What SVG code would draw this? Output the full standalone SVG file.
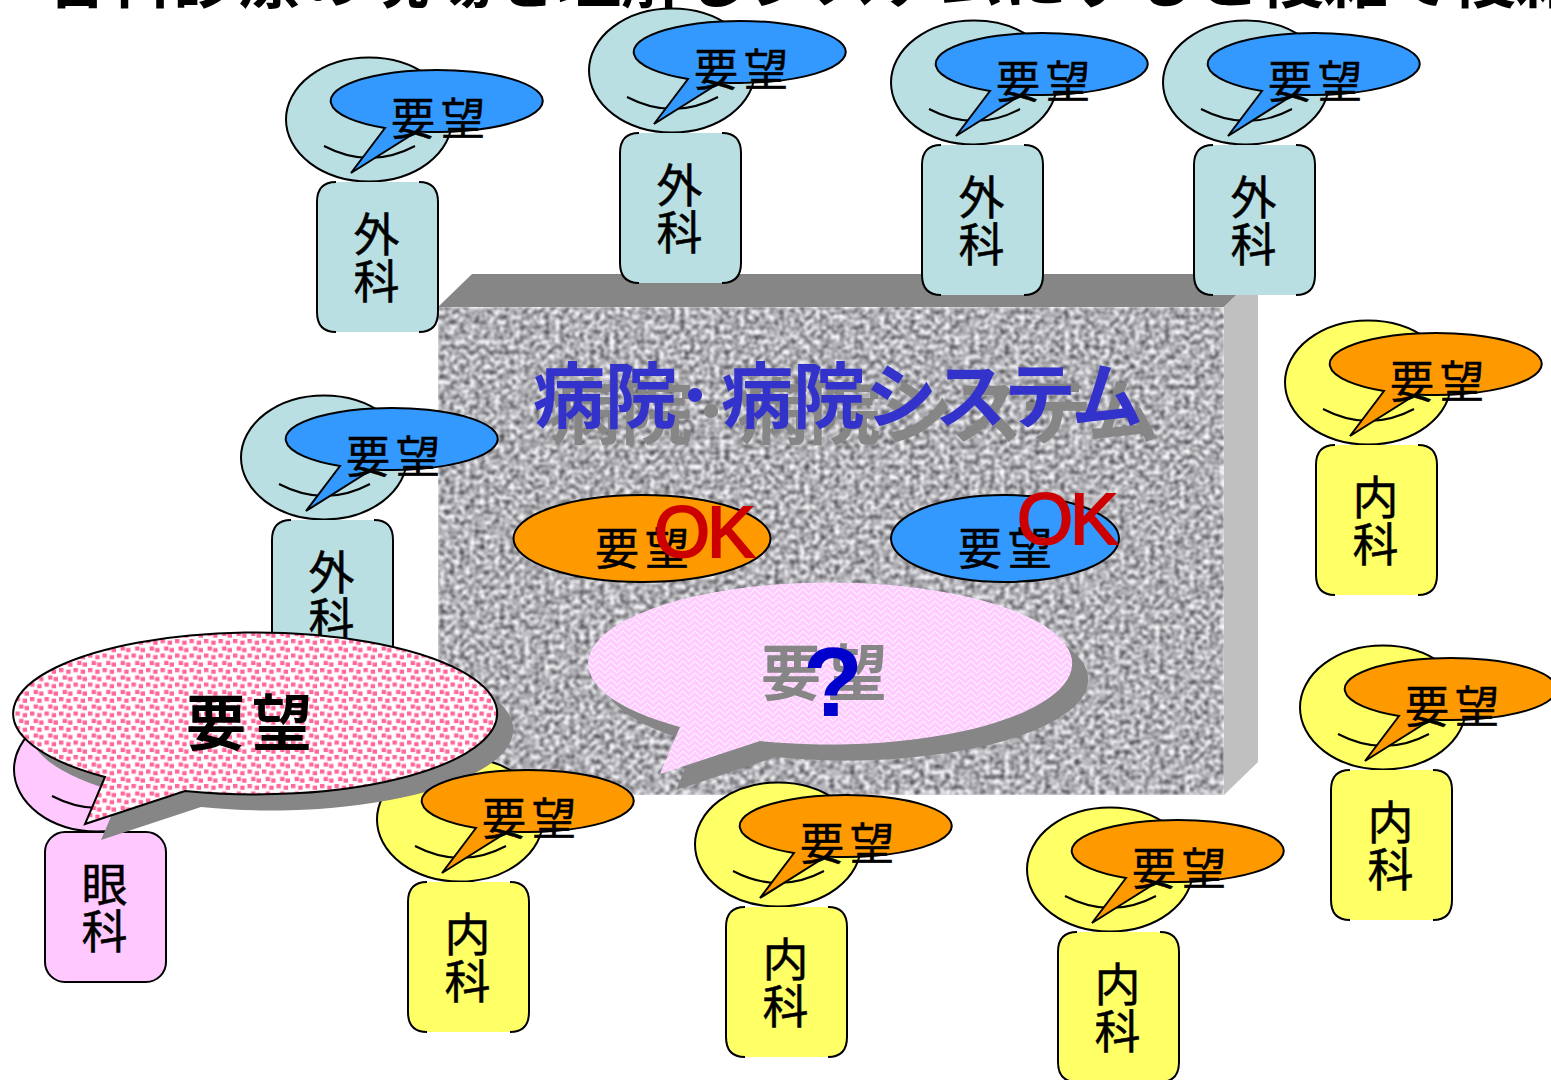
<svg xmlns="http://www.w3.org/2000/svg" width="1551" height="1080" viewBox="0 0 1551 1080">
<style>
text{font-family:"Noto Sans CJK JP","Liberation Sans",sans-serif;fill:#000}
.s{stroke:#000;stroke-width:2}
.teal{fill:#b9dfe3}.yel{fill:#ffff66}.pnk{fill:#ffc9ff}.blue{fill:#3399ff}.org{fill:#ff9900}
.lbl{font-size:44px;letter-spacing:6px;stroke:#000;stroke-width:.5}
.dep{font-size:46px;text-anchor:middle;stroke:#000;stroke-width:.5}
.ok{font-family:"Liberation Sans",sans-serif;font-size:72px;letter-spacing:-3px;fill:#cc0000;stroke:#cc0000;stroke-width:2}
.big{font-size:60px;font-weight:700;letter-spacing:6px}
.sys{font-size:72px;font-weight:700}
</style>
<defs>
<filter id="granite" x="0" y="0" width="100%" height="100%" color-interpolation-filters="sRGB">
<feTurbulence type="fractalNoise" baseFrequency="0.2" numOctaves="2" seed="11"/>
<feColorMatrix type="matrix" values="1.3 0 0 0 0.04  1.3 0 0 0 0.04  1.3 0 0 0 0.06  0 0 0 0 1"/>
<feGaussianBlur stdDeviation="0.8"/>
</filter>
<pattern id="dots" width="14.5" height="14.5" patternUnits="userSpaceOnUse">
<rect width="14.5" height="14.5" fill="#fff"/>
<g fill="#ff6699"><rect x="1" y="1" width="4.4" height="4.2"/><rect x="8.2" y="2.6" width="4.4" height="4.2"/><rect x="4.6" y="8.4" width="4.4" height="4.2"/><rect x="10.1" y="10" width="4.4" height="4.2"/></g>
</pattern>
<pattern id="weave" width="12" height="12" patternUnits="userSpaceOnUse">
<rect width="12" height="12" fill="#ffccff"/>
<path d="M0,3 L6,9 L12,3 M0,9 L3,12 M9,12 L12,9 M3,0 L6,3 L9,0" fill="none" stroke="#fff" stroke-width="1.1" opacity=".7"/>
</pattern>
<g id="head"><ellipse cx="369" cy="119.5" rx="83" ry="62" class="s"/><path d="M324,146 Q370,170 415,146" fill="none" class="s"/></g>
<path id="call" class="s" d="M385,128 L351,173 L417,131.4 A106,31 0 1 0 385,128 Z"/>
<g id="body"><rect x="317" y="182" width="121" height="150" rx="20" stroke="none"/><path d="M336,182 Q317,182 317,202 V312 Q317,332 336,332 M419,182 Q438,182 438,202 V312 Q438,332 419,332" fill="none" class="s"/></g>
<path id="spk" d="M105,777 L85,824 L185,791 A242,81 0 1 0 105,777 Z"/>
</defs>

<text id="title" y="2" style="font-size:64px;font-weight:700"><tspan x="15" y="12" style="font-family:'Liberation Sans',sans-serif">•</tspan><tspan x="45" y="2">各科診療の現場を理解しシステムにすると複雑で複雑</tspan></text>

<g id="system">
<polygon points="438,307 472,274 1258,274 1224,307" fill="#868686"/>
<polygon points="1224,307 1258,274 1258,762 1224,795" fill="#c0c0c0"/>
<rect x="438" y="307" width="786" height="488" filter="url(#granite)"/>
<text class="sys" x="549" y="438" style="fill:#868686">病院･<tspan dx="8">病院</tspan><tspan letter-spacing="-2.5">システム</tspan></text>
<text class="sys" x="533" y="422" style="fill:#3333cc">病院･<tspan dx="8">病院</tspan><tspan letter-spacing="-2.5">システム</tspan></text>
</g>

<g id="connectors"></g>

<g id="req-org"><ellipse cx="642" cy="538.5" rx="128.5" ry="43.5" class="org s"/><text class="lbl" x="595" y="565">要望</text><text class="ok" x="654" y="557">OK</text></g>
<g id="req-blue"><ellipse cx="1005" cy="538.5" rx="114" ry="43.5" class="blue s"/><text class="lbl" x="958" y="565">要望</text><text class="ok" x="1017" y="544">OK</text></g>

<g id="speech-center">
<use href="#spk" x="591" y="-34" fill="#868686"/>
<use href="#spk" x="575" y="-50" fill="url(#weave)"/>
<text class="big" x="761" y="695" style="fill:#868686">要望</text>
<text x="833" y="716" text-anchor="middle" style="font-family:'Liberation Sans',sans-serif;font-size:98px;font-weight:700;fill:#0000cc">?</text>
</g>

<g id="n-surg1"><use href="#head" class="teal"/><use href="#call" class="blue"/><use href="#body" class="teal"/><text class="lbl" x="391" y="135">要望</text><text class="dep" x="376.5" y="251">外</text><text class="dep" x="376.5" y="298">科</text></g>
<g id="n-surg2" transform="translate(303,-49)"><use href="#head" class="teal"/><use href="#call" class="blue"/><use href="#body" class="teal"/><text class="lbl" x="391" y="135">要望</text><text class="dep" x="376.5" y="251">外</text><text class="dep" x="376.5" y="298">科</text></g>
<g id="n-surg3" transform="translate(605,-37)"><use href="#head" class="teal"/><use href="#call" class="blue"/><use href="#body" class="teal"/><text class="lbl" x="391" y="135">要望</text><text class="dep" x="376.5" y="251">外</text><text class="dep" x="376.5" y="298">科</text></g>
<g id="n-surg4" transform="translate(877,-37)"><use href="#head" class="teal"/><use href="#call" class="blue"/><use href="#body" class="teal"/><text class="lbl" x="391" y="135">要望</text><text class="dep" x="376.5" y="251">外</text><text class="dep" x="376.5" y="298">科</text></g>
<g id="n-surg5" transform="translate(-45,338)"><use href="#head" class="teal"/><use href="#call" class="blue"/><use href="#body" class="teal"/><text class="lbl" x="391" y="135">要望</text><text class="dep" x="376.5" y="251">外</text><text class="dep" x="376.5" y="298">科</text></g>
<g id="n-eye" transform="translate(-272,650)"><use href="#head" class="pnk"/><rect x="317" y="182" width="121" height="150" rx="20" class="pnk s"/><text class="dep" x="376.5" y="251">眼</text><text class="dep" x="376.5" y="298">科</text></g>
<g id="n-int-a-head" transform="translate(91,700)"><use href="#head" class="yel"/></g>

<g id="speech-left">
<use href="#spk" x="16" y="16" fill="#868686"/>
<use href="#spk" fill="url(#dots)" class="s"/>
<text class="big" x="186" y="745">要望</text>
</g>

<g id="n-int-a" transform="translate(91,700)"><use href="#call" class="org"/><use href="#body" class="yel"/><text class="lbl" x="391" y="135">要望</text><text class="dep" x="376.5" y="251">内</text><text class="dep" x="376.5" y="298">科</text></g>
<g id="n-int-b" transform="translate(409,725)"><use href="#head" class="yel"/><use href="#call" class="org"/><use href="#body" class="yel"/><text class="lbl" x="391" y="135">要望</text><text class="dep" x="376.5" y="251">内</text><text class="dep" x="376.5" y="298">科</text></g>
<g id="n-int-c" transform="translate(741,750)"><use href="#head" class="yel"/><use href="#call" class="org"/><use href="#body" class="yel"/><text class="lbl" x="391" y="135">要望</text><text class="dep" x="376.5" y="251">内</text><text class="dep" x="376.5" y="298">科</text></g>
<g id="n-int-d" transform="translate(999,263)"><use href="#head" class="yel"/><use href="#call" class="org"/><use href="#body" class="yel"/><text class="lbl" x="391" y="135">要望</text><text class="dep" x="376.5" y="251">内</text><text class="dep" x="376.5" y="298">科</text></g>
<g id="n-int-e" transform="translate(1014,588)"><use href="#head" class="yel"/><use href="#call" class="org"/><use href="#body" class="yel"/><text class="lbl" x="391" y="135">要望</text><text class="dep" x="376.5" y="251">内</text><text class="dep" x="376.5" y="298">科</text></g>
</svg>
